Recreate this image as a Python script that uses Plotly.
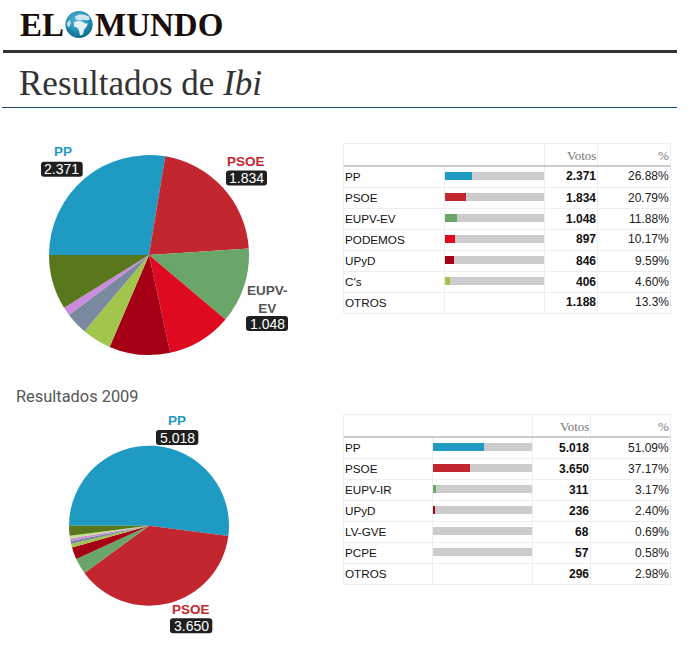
import base64
import plotly.graph_objects as go

W = 693
H = 652

# 2015 results
parties_2015 = ['PP', 'PSOE', 'EUPV-EV', 'PODEMOS', 'UPyD', "C's", 'OTROS']
votes_2015 = [2371, 1834, 1048, 897, 846, 406, 1188]
votes_txt_2015 = ['2.371', '1.834', '1.048', '897', '846', '406', '1.188']
pct_2015 = [26.88, 20.79, 11.88, 10.17, 9.59, 4.60, 13.3]
pct_txt_2015 = ['26.88%', '20.79%', '11.88%', '10.17%', '9.59%', '4.60%', '13.3%']
# the pie breaks OTROS into three unnamed slices
pie_votes_2015 = [2371, 1834, 1048, 897, 846, 406, 310, 117, 761]
pie_colors_2015 = ['#1F9BC3', '#C22730', '#6AA56A', '#E00A20', '#A50016', '#A2C64B',
                   '#7A8A9E', '#CC8BDD', '#59771C']

# 2009 results
parties_2009 = ['PP', 'PSOE', 'EUPV-IR', 'UPyD', 'LV-GVE', 'PCPE', 'OTROS']
votes_2009 = [5018, 3650, 311, 236, 68, 57, 296]
votes_txt_2009 = ['5.018', '3.650', '311', '236', '68', '57', '296']
pct_2009 = [51.09, 37.17, 3.17, 2.40, 0.69, 0.58, 2.98]
pct_txt_2009 = ['51.09%', '37.17%', '3.17%', '2.40%', '0.69%', '0.58%', '2.98%']
pie_votes_2009 = [5018, 3650, 311, 236, 68, 57, 50, 54, 192]
pie_colors_2009 = ['#1F9BC3', '#C22730', '#6AA56A', '#A50016', '#A2C64B', '#7A8A9E',
                   '#CC8BDD', '#C5E08A', '#59771C']

bar_colors_2015 = ['#1F9BC3', '#C22730', '#6AA56A', '#E00A20', '#A50016', '#A2C64B', '#CCCCCC']
bar_colors_2009 = ['#1F9BC3', '#C22730', '#6AA56A', '#A50016', '#CCCCCC', '#CCCCCC', '#CCCCCC']

SANS = 'Liberation Sans'
SERIF = 'Liberation Serif'


def fx(px):
    return px / W


def fy(px):
    return 1 - px / H


def line(x0, y0, x1, y1, color, width):
    return dict(type='line', xref='paper', yref='paper', x0=fx(x0), x1=fx(x1), y0=fy(y0), y1=fy(y1),
                line=dict(color=color, width=width), layer='below')


def text(x, y, s, size=12, color='#111', family=SANS, anchor='center'):
    return dict(text=s, xref='paper', yref='paper', x=fx(x), y=fy(y), xanchor=anchor, yanchor='middle',
                showarrow=False, font=dict(family=family, size=size, color=color),
                xshift=0, yshift=0, borderpad=0, align=anchor)


def badge(x0, y0, x1, y1, r=3):
    pts = [('M', x0 + r, y0), ('L', x1 - r, y0), ('Q', x1, y0, x1, y0 + r), ('L', x1, y1 - r),
           ('Q', x1, y1, x1 - r, y1), ('L', x0 + r, y1), ('Q', x0, y1, x0, y1 - r),
           ('L', x0, y0 + r), ('Q', x0, y0, x0 + r, y0)]
    path = ''
    for p in pts:
        path += p[0]
        for i, v in enumerate(p[1:]):
            path += ' %.5f' % (fx(v) if i % 2 == 0 else fy(v))
        path += ' '
    return dict(type='path', xref='paper', yref='paper', path=path + 'Z',
                fillcolor='#1F1F1F', line=dict(width=0), layer='above')


def add_table(fig, shapes, annots, top, head, left, col1, col2, col3, right, bar_x,
              names, votes, pct, votes_txt, pct_txt, colors, xa, ya):
    row_h = 21
    bottom = head + row_h * 7 + 0.5
    grid = '#EEEEEE'
    shapes.append(line(left, top, right, top, grid, 1))
    shapes.append(line(left, top, left, bottom, grid, 1))
    shapes.append(line(right, top, right, bottom, grid, 1))
    shapes.append(line(col2, top, col2, bottom, grid, 1))
    shapes.append(line(col3, top, col3, bottom, grid, 1))
    shapes.append(line(col1, head, col1, bottom, grid, 1))
    shapes.append(line(left, head, right, head, '#CCCCCC', 2))
    annots.append(text(col3 - 0.5, (top + head) / 2 + 1, 'Votos', 13, '#777777', SERIF, 'right'))
    annots.append(text(right - 1, (top + head) / 2 + 1, '%', 13, '#777777', SERIF, 'right'))
    for i, name in enumerate(names):
        y = head + row_h * i + 10.5
        rule = head + 0.5 + row_h * (i + 1)
        shapes.append(line(left, rule, right, rule, grid, 1))
        annots.append(text(left + 0.5, y, name, 11.7, '#111111', SANS, 'left'))
        annots.append(text(col3 - 0.5, y, '<b>%s</b>' % votes_txt[i], 12, '#111111', SANS, 'right'))
        annots.append(text(right - 0.5, y, pct_txt[i], 12, '#222222', SANS, 'right'))

    # bars sit 1.5px above the row centre
    shown = [p if n != 'OTROS' else None for n, p in zip(names, pct)]
    track = [100 if n != 'OTROS' else None for n in names]
    fig.add_trace(go.Bar(y=names, x=track, orientation='h', width=8 / row_h, marker=dict(color='#CCCCCC', line=dict(width=0)),
                         xaxis=xa, yaxis=ya, hoverinfo='skip', showlegend=False))
    fig.add_trace(go.Bar(y=names, x=shown, orientation='h', width=8 / row_h, marker=dict(color=colors, line=dict(width=0)),
                         xaxis=xa, yaxis=ya, showlegend=False))
    sx = 'xaxis' if xa == 'x' else 'xaxis' + xa[1:]
    sy = 'yaxis' if ya == 'y' else 'yaxis' + ya[1:]
    fig.update_layout({
        sx: dict(domain=[fx(bar_x), fx(bar_x + 99)], range=[0, 100], visible=False, fixedrange=True, anchor=ya),
        sy: dict(domain=[fy(head + row_h * 7 - 1.5), fy(head - 1.5)], range=[6.5, -0.5], visible=False, fixedrange=True,
                 anchor=xa, type='category', categoryorder='array', categoryarray=names),
    })


fig = go.Figure()
shapes = []
annots = []

fig.add_trace(go.Pie(values=pie_votes_2015, marker=dict(colors=pie_colors_2015, line=dict(width=0)), sort=False,
                     direction='clockwise', rotation=270, textinfo='none', hoverinfo='value',
                     domain=dict(x=[fx(49), fx(249)], y=[fy(355), fy(155)]), showlegend=False))
fig.add_trace(go.Pie(values=pie_votes_2009, marker=dict(colors=pie_colors_2009, line=dict(width=0)), sort=False,
                     direction='clockwise', rotation=270, textinfo='none', hoverinfo='value',
                     domain=dict(x=[fx(69), fx(229)], y=[fy(605.7), fy(445.7)]), showlegend=False))

add_table(fig, shapes, annots, 143.5, 166, 343.5, 444.5, 544.5, 597.5, 670.5, 445,
          parties_2015, votes_2015, pct_2015, votes_txt_2015, pct_txt_2015, bar_colors_2015, 'x', 'y')
add_table(fig, shapes, annots, 414.5, 437, 343.5, 432.5, 532.5, 590.5, 670.5, 433,
          parties_2009, votes_2009, pct_2009, votes_txt_2009, pct_txt_2009, bar_colors_2009, 'x2', 'y2')

# header
shapes.append(line(3, 51.5, 677, 51.5, '#333333', 3))
shapes.append(line(2, 107.5, 677, 107.5, '#1B4F78', 1))
annots.append(text(18.5, 25, '<b>EL</b>', 33, '#1A0D0A', SERIF, 'left'))
annots.append(text(94, 25, '<b>MUNDO</b>', 33, '#1A0D0A', SERIF, 'left'))
annots.append(text(18, 83, 'Resultados de <i>Ibi</i>', 35, '#333333', SERIF, 'left'))
annots.append(text(14.5, 396, 'Resultados 2009', 16.4, '#555555', 'Roboto', 'left'))

# pie labels
labels = [
    (62.5, 151.5, 'PP', '#1F9BC3', 61.8, 169, '2.371', (41, 161.7, 82.7, 176.7)),
    (246, 161.5, 'PSOE', '#C22730', 246.5, 178, '1.834', (226, 170.5, 267, 185.5)),
    (267, 299.5, 'EUPV-<br>EV', '#555555', 267, 323.5, '1.048', (246, 316, 288, 331)),
    (177.3, 420.5, 'PP', '#1F9BC3', 177.2, 437.5, '5.018', (156, 430, 198.3, 445)),
    (191, 609.5, 'PSOE', '#C22730', 191.2, 626, '3.650', (170, 618.3, 212.3, 633.3)),
]
for lx, ly, name, col, vx, vy, val, box in labels:
    annots.append(text(lx, ly, '<b>%s</b>' % name, 13.5, col))
    shapes.append(badge(*box))
    annots.append(text(vx, vy, val, 14, '#FFFFFF'))

globe = '''<svg xmlns="http://www.w3.org/2000/svg" viewBox="0 0 28 28" width="112" height="112">
<defs><radialGradient id="g" cx="45%" cy="35%" r="70%"><stop offset="0" stop-color="#6DBAD6"/>
<stop offset="0.6" stop-color="#1F8DB4"/><stop offset="1" stop-color="#0B5E80"/></radialGradient></defs>
<circle cx="14" cy="14" r="13.6" fill="url(#g)"/>
<path d="M10 6 L14 4 L19 4 L24 6 L25 9 L21 10 L18 9 L15 10 L11 9 Z" fill="#CFE6EE"/>
<path d="M9 12 L13 10.5 L17 11 L20 13 L23 13 L21 17 L19 19 L18 24 L15 25 L14 20 L12 17 L9 16 Z" fill="#E4F1F5"/>
<path d="M2 12 L5 9 L6 13 L4 17 L2 15 Z" fill="#BBDCE8"/>
</svg>'''
globe_src = 'data:image/svg+xml;base64,' + base64.b64encode(globe.encode()).decode()

fig.update_layout(
    width=W, height=H, margin=dict(l=0, r=0, t=0, b=0), paper_bgcolor='white', plot_bgcolor='white',
    barmode='overlay', bargap=0, showlegend=False, shapes=shapes, annotations=annots,
    images=[dict(source=globe_src, xref='paper', yref='paper', x=fx(65), y=fy(10.5), sizex=28 / W, sizey=28 / H,
                 xanchor='left', yanchor='top', layer='above')],
)

fig.write_html('out.html', post_script="document.body.style.margin='0';", config=dict(displayModeBar=False))
